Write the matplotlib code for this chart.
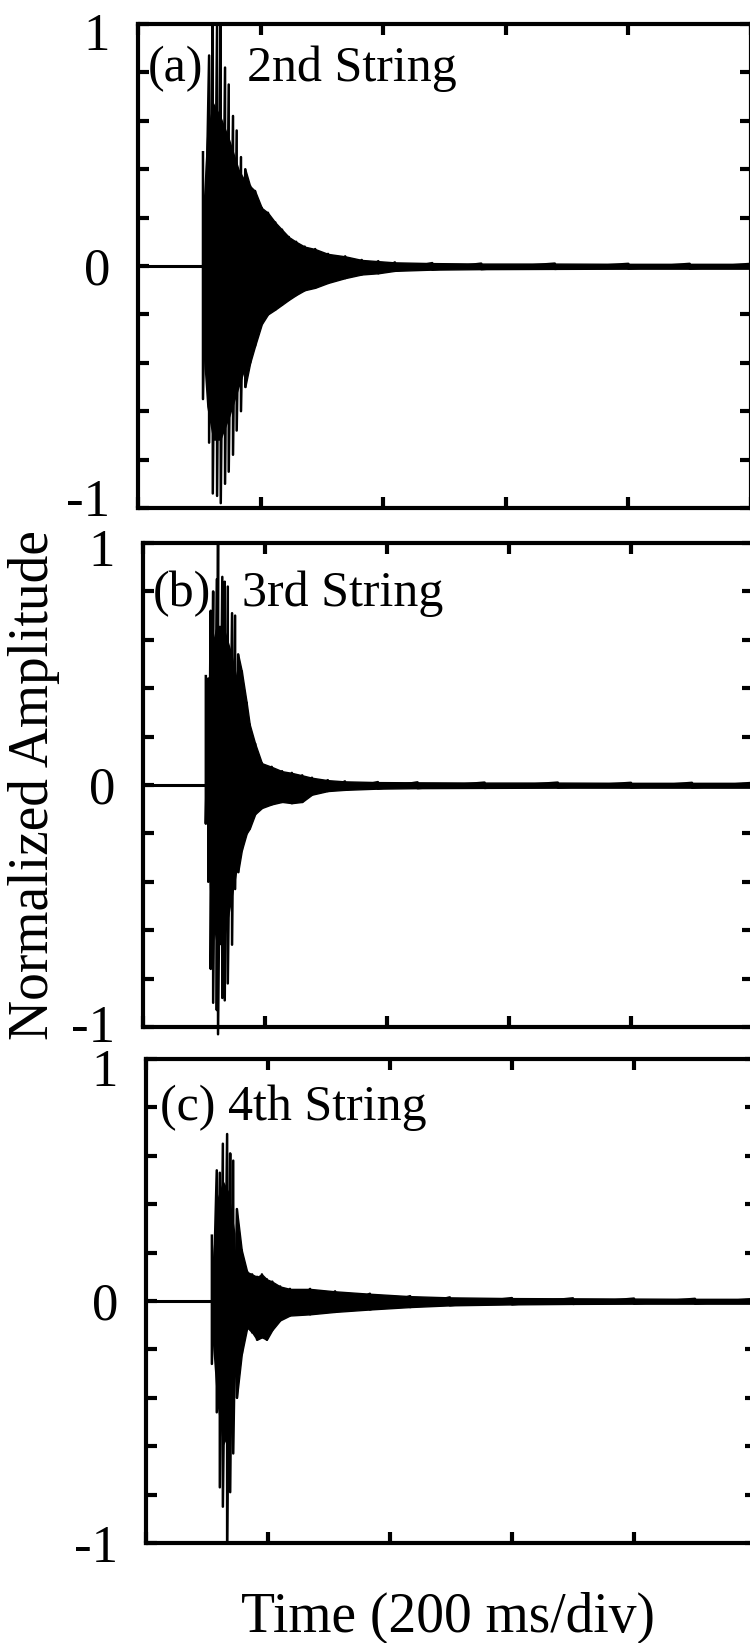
import numpy as np
import matplotlib
matplotlib.use("Agg")
import matplotlib.pyplot as plt
from matplotlib.ticker import FixedLocator, MultipleLocator
from matplotlib.transforms import ScaledTranslation

plt.rcParams['font.family'] = ['Liberation Serif', 'DejaVu Serif']

# time axis in ms (200 ms per division), amplitude normalized to 1
x_ticks = [0, 200, 400, 600, 800, 1000]
y_ticks = [-1, 0, 1]
y_tick_labels = ['-1', '0', '1']

# (a) 2nd string: stroke positions with upper / lower extremes
a_start = 5
a_t = [106, 116, 122, 129, 135, 142, 148, 155, 161, 168,
       175, 183, 191, 202, 212, 224, 235, 246, 258, 272,
       289, 310, 338, 365, 392, 419, 480, 560, 680, 800, 900, 1000]
a_hi = [0.47, 0.87, 1.15, 1.00, 1.15, 0.82, 0.75, 0.62, 0.56, 0.45,
        0.40, 0.33, 0.31, 0.24, 0.22, 0.18, 0.15, 0.12, 0.10, 0.08,
        0.07, 0.05, 0.04, 0.025, 0.02, 0.015, 0.012, 0.01, 0.01, 0.009, 0.009, 0.009]
a_lo = [-0.55, -0.73, -0.94, -0.95, -0.98, -0.90, -0.85, -0.78, -0.68, -0.60,
        -0.50, -0.40, -0.33, -0.24, -0.20, -0.18, -0.16, -0.14, -0.12, -0.10,
        -0.09, -0.07, -0.05, -0.035, -0.03, -0.02, -0.015, -0.013, -0.012, -0.011, -0.011, -0.011]
# solid black core of the attack
a_core_t = [106, 112, 122, 135, 150, 165, 178]
a_core_hi = [0.25, 0.55, 0.68, 0.62, 0.52, 0.40, 0.34]
a_core_lo = [-0.35, -0.58, -0.72, -0.72, -0.62, -0.50, -0.40]

# (b) 3rd string
b_start = 0
b_t = [103, 107, 111, 115, 121, 123, 130, 134, 139, 146,
       151, 156, 162, 170, 175, 184, 195, 211, 228, 244,
       261, 277, 303, 331, 385, 450, 560, 680, 800, 900, 1000]
b_hi = [0.45, 0.44, 0.72, 0.80, 0.85, 1.00, 0.86, 0.84, 0.82, 0.71,
        0.70, 0.54, 0.47, 0.34, 0.25, 0.17, 0.09, 0.075, 0.057, 0.05,
        0.04, 0.03, 0.02, 0.015, 0.012, 0.011, 0.01, 0.01, 0.009, 0.009, 0.009]
b_lo = [-0.16, -0.40, -0.76, -0.90, -0.93, -1.03, -0.88, -0.89, -0.82, -0.66,
        -0.43, -0.36, -0.27, -0.20, -0.18, -0.12, -0.095, -0.08, -0.07, -0.075,
        -0.07, -0.04, -0.025, -0.02, -0.015, -0.013, -0.012, -0.011, -0.011, -0.011, -0.011]
b_core_t = [104, 110, 120, 132, 145, 158]
b_core_hi = [0.25, 0.55, 0.66, 0.66, 0.55, 0.40]
b_core_lo = [-0.12, -0.50, -0.66, -0.66, -0.48, -0.30]

# (c) 4th string
c_start = 2
c_t = [108, 116, 121, 126, 133, 138, 143, 149, 157, 166,
       174, 182, 190, 198, 207, 220, 236, 269, 310, 367,
       433, 498, 600, 700, 800, 900, 1000]
c_hi = [0.27, 0.54, 0.53, 0.65, 0.69, 0.61, 0.58, 0.38, 0.21, 0.12,
        0.11, 0.10, 0.11, 0.09, 0.08, 0.06, 0.05, 0.05, 0.04, 0.03,
        0.02, 0.015, 0.012, 0.011, 0.01, 0.009, 0.009]
c_lo = [-0.26, -0.46, -0.77, -0.85, -1.10, -0.79, -0.63, -0.40, -0.22, -0.11,
        -0.13, -0.16, -0.15, -0.16, -0.12, -0.08, -0.06, -0.055, -0.045, -0.035,
        -0.025, -0.018, -0.014, -0.012, -0.011, -0.011, -0.011]
c_core_t = [109, 116, 126, 136, 146]
c_core_hi = [0.18, 0.42, 0.50, 0.45, 0.28]
c_core_lo = [-0.18, -0.42, -0.60, -0.55, -0.30]

W, H = 750, 1643
fig = plt.figure(figsize=(W / 100, H / 100), dpi=100)

# panel boxes in pixels: left, top, right, bottom (right edge runs off the page)
panels = [
    dict(box=(138, 24, 751, 508), t=a_t, hi=a_hi, lo=a_lo, start=a_start, dense=10, clip=True,
         core=(a_core_t, a_core_hi, a_core_lo), shift=(-11, 7),
         labels=[(148, 81, '(a)'), (247, 81, '2nd String')]),
    dict(box=(143, 543, 753, 1027), t=b_t, hi=b_hi, lo=b_lo, start=b_start, dense=11, clip=False,
         core=(b_core_t, b_core_hi, b_core_lo), shift=(-3, 5),
         labels=[(153, 606, '(b)'), (242, 606, '3rd String')]),
    dict(box=(146, 1059, 756, 1543), t=c_t, hi=c_hi, lo=c_lo, start=c_start, dense=7, clip=True,
         core=(c_core_t, c_core_hi, c_core_lo), shift=(0, 8),
         labels=[(160, 1120, '(c) 4th String')]),
]

for p in panels:
    l, t_, r, b = p['box']
    ax = fig.add_axes([l / W, 1 - b / H, (r - l) / W, (b - t_) / H])
    t = np.asarray(p['t'], float)
    hi = np.asarray(p['hi'], float)
    lo = np.asarray(p['lo'], float)

    # flat line before the pluck
    ax.plot([p['start'], t[0]], [0, 0], color='k', lw=2.2, solid_capstyle='butt')
    # each stroke drawn top to bottom, joined into one trace
    ax.plot(np.repeat(t, 2), np.column_stack([hi, lo]).ravel(), color='k', lw=1.8,
            clip_on=p['clip'])
    # dense parts are solid black
    k = p['dense']
    ax.fill_between(t[k:], lo[k:], hi[k:], color='k', lw=1.0)
    ct, chi, clo = p['core']
    ax.fill_between(ct, clo, chi, color='k', lw=0)

    ax.set_xlim(0, 1000)
    ax.set_ylim(-1, 1)
    ax.xaxis.set_major_locator(FixedLocator(x_ticks))
    ax.yaxis.set_major_locator(FixedLocator(y_ticks))
    ax.yaxis.set_minor_locator(MultipleLocator(0.2))
    ax.set_yticklabels(y_tick_labels)
    ax.tick_params(which='both', direction='in', top=True, right=True,
                   length=8, width=3, labelbottom=False, labelsize=38, pad=20)
    for s in ax.spines.values():
        s.set_linewidth(3)

    # nudge the end labels inwards like the original
    lbls = ax.get_yticklabels()
    for lab, dy in ((lbls[0], -p['shift'][0]), (lbls[2], -p['shift'][1])):
        lab.set_transform(lab.get_transform() + ScaledTranslation(0, dy / 100, fig.dpi_scale_trans))

    for x, y, s in p['labels']:
        fig.text(x / W, 1 - y / H, s, fontsize=36, va='baseline', ha='left')

fig.text(34 / W, 1 - 785 / H, 'Normalized Amplitude', rotation=90, fontsize=40,
         ha='center', va='center')
fig.text(448 / W, 1 - 1632 / H, 'Time (200 ms/div)', fontsize=40, ha='center', va='baseline')

fig.savefig('out.png', dpi=100, facecolor='white')
